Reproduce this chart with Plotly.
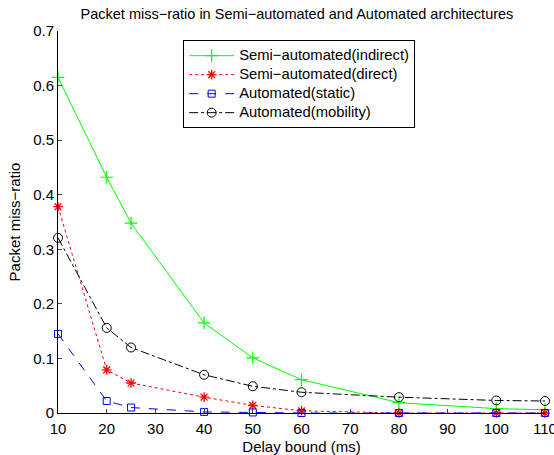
import plotly.graph_objects as go

delay_bound = [10, 20, 25, 40, 50, 60, 80, 100, 110]
semi_indirect = [0.615, 0.432, 0.348, 0.165, 0.101, 0.061, 0.019, 0.008, 0.006]
semi_direct = [0.378, 0.079, 0.055, 0.029, 0.014, 0.004, 0.0, 0.0, 0.0]
auto_static = [0.145, 0.022, 0.010, 0.002, 0.001, 0.0, 0.0, 0.0, 0.0]
auto_mobility = [0.321, 0.156, 0.120, 0.070, 0.049, 0.038, 0.029, 0.023, 0.022]
series_names = ["Semi\u2212automated(indirect)", "Semi\u2212automated(direct)",
                "Automated(static)", "Automated(mobility)"]

x_ticks = [10, 20, 30, 40, 50, 60, 70, 80, 90, 100, 110]
y_ticks = [0, 0.1, 0.2, 0.3, 0.4, 0.5, 0.6, 0.7]
y_tick_text = ["0", "0.1", "0.2", "0.3", "0.4", "0.5", "0.6", "0.7"]

FONT = "Liberation Sans, Arial, Helvetica, sans-serif"
FS = 15


def lg(name):
    return '<span style="font-size:14.8px">' + name + '</span>'


fig = go.Figure()
fig.add_trace(go.Scatter(
    x=delay_bound, y=semi_indirect, name=lg(series_names[0]),
    mode="lines+markers", cliponaxis=False,
    line=dict(color="#00FF00", width=1, dash="solid"),
    marker=dict(symbol="cross-thin-open", size=9, color="#00FF00",
                line=dict(color="#00FF00", width=1.2)),
))
fig.add_trace(go.Scatter(
    x=delay_bound, y=semi_direct, name=lg(series_names[1]),
    mode="lines+markers", cliponaxis=False,
    line=dict(color="#FF0000", width=1, dash="dot"),
    marker=dict(symbol="asterisk-open", size=8, color="#FF0000",
                line=dict(color="#FF0000", width=1.3)),
))
fig.add_trace(go.Scatter(
    x=delay_bound, y=auto_static, name=lg(series_names[2]),
    mode="lines+markers", cliponaxis=False,
    line=dict(color="#0000FF", width=1, dash="dash"),
    marker=dict(symbol="square-open", size=7, color="#0000FF",
                line=dict(color="#0000FF", width=1)),
))
fig.add_trace(go.Scatter(
    x=delay_bound, y=auto_mobility, name=lg(series_names[3]),
    mode="lines+markers", cliponaxis=False,
    line=dict(color="#000000", width=1, dash="dashdot"),
    marker=dict(symbol="circle-open", size=9, color="#000000",
                line=dict(color="#000000", width=1)),
))

fig.update_layout(
    width=554, height=455,
    margin=dict(l=58, r=9, t=31, b=42),
    paper_bgcolor="white", plot_bgcolor="white",
    font=dict(family=FONT, size=FS, color="black"),
    title=dict(text="Packet miss\u2212ratio in Semi\u2212automated and Automated architectures",
               x=0.536, xanchor="center", y=0.969, yanchor="middle",
               font=dict(family=FONT, size=14.5, color="black")),
    showlegend=True,
    legend=dict(x=0.257, y=0.976, xanchor="left", yanchor="top",
                bgcolor="white", bordercolor="black", borderwidth=1,
                font=dict(family=FONT, size=12, color="black"),
                itemwidth=45, tracegroupgap=0,
                traceorder="normal"),
)
fig.update_xaxes(
    range=[10, 110], tickvals=x_ticks, ticks="inside", ticklen=4,
    showline=True, linecolor="black", linewidth=1, mirror=False,
    showgrid=False, zeroline=False, ticklabeloverflow="allow", automargin=False,
    ticklabelstandoff=2,
    title=dict(text="Delay bound (ms)", standoff=6, font=dict(size=FS)),
    tickfont=dict(size=FS),
)
fig.update_yaxes(
    range=[0, 0.7], tickvals=y_ticks, ticktext=y_tick_text, ticks="inside", ticklen=4,
    showline=True, linecolor="black", linewidth=1, mirror=False,
    showgrid=False, zeroline=False, ticklabeloverflow="allow", automargin=False,
    title=dict(text="Packet miss\u2212ratio", standoff=8, font=dict(size=FS)),
    tickfont=dict(size=FS),
)

fig.write_html("out.html", config={"displayModeBar": False},
               post_script="document.body.style.margin='0';document.body.style.overflow='hidden';")
